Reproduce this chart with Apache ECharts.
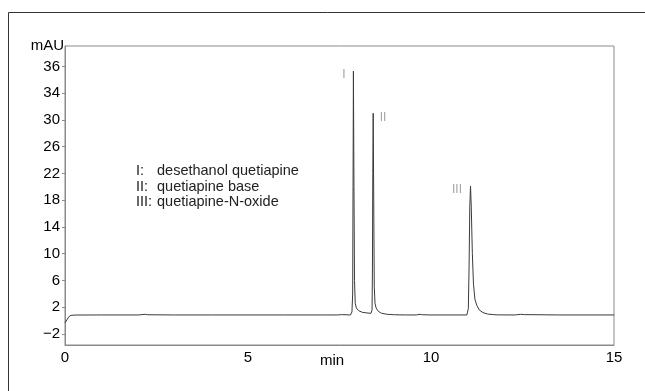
<!DOCTYPE html>
<html><head><meta charset="utf-8">
<script src="https://cdn.jsdelivr.net/npm/echarts@6/dist/echarts.min.js"></script>
<style>html,body{margin:0;padding:0;background:#fff}#c{width:645px;height:391px}</style>
</head><body><div id="c"></div>
<script>
// Chromatogram trace: [time (min), absorbance (mAU)]
var trace = [
  [0,-0.35],[0.05,0.1],[0.1,0.55],[0.16,0.8],[0.3,0.84],[1.0,0.85],[2.0,0.85],
  [2.2,0.95],[2.23,0.78],[2.26,0.88],[3.0,0.85],[4.0,0.85],[5.0,0.85],[6.0,0.85],
  [7.0,0.85],[7.45,0.85],[7.48,0.98],[7.5,0.8],[7.55,0.9],[7.6,0.85],[7.8,0.85],
  [7.84,1.3],[7.86,4],[7.87,20],[7.88,37.3],[7.895,20],[7.91,6],[7.93,2.6],
  [7.96,1.9],[8.02,1.5],[8.12,1.25],[8.25,1.15],[8.36,1.1],
  [8.39,1.6],[8.40,8],[8.41,22],[8.42,31.0],[8.435,18],[8.45,5],[8.47,2.6],
  [8.5,1.9],[8.56,1.4],[8.65,1.1],[8.8,0.95],[9.0,0.88],[9.3,0.85],
  [9.6,0.85],[9.7,0.95],[9.73,0.8],[9.76,0.88],[10.0,0.85],[10.98,0.85],
  [11.0,0.9],[11.02,1.8],[11.04,8],[11.06,17],[11.08,20.1],[11.1,17],[11.13,10],
  [11.16,5.5],[11.2,3.2],[11.25,2.3],[11.32,1.6],[11.42,1.2],[11.55,0.98],
  [11.7,0.9],[11.85,0.86],[12.3,0.85],[12.45,0.95],[12.5,0.8],[12.55,0.9],
  [12.6,0.85],[13.5,0.85],[15,0.85]
];
// Peak labels
var peakNames = ['I','II','III'];
var peakLabelTimes = [7.62, 8.69, 10.71];
var peakLabelValues = [36.7, 30.3, 19.5];
// Axis ticks
var yTickValues = [-2,2,6,10,14,18,22,26,30,34,38];
var yTickLabels = ['\u22122','2','6','10','14','18','22','26','30','34','36'];
// Legend
var legendNumerals = ['I:','II:','III:'];
var legendNames = ['desethanol quetiapine','quetiapine base','quetiapine-N-oxide'];

var font = '"Liberation Sans", Arial, sans-serif';
var chart = echarts.init(document.getElementById('c'), null, {renderer:'canvas'});
var labelData = peakNames.map(function(n,i){return [peakLabelTimes[i], peakLabelValues[i], n];});
var graphics = [
  {type:'rect', shape:{x:8.5,y:12.5,width:700,height:500}, style:{fill:'none', stroke:'#333', lineWidth:1}, silent:true},
  {type:'text', x:64, y:46, style:{text:'mAU', font:'15px '+font, fill:'#000', textAlign:'right', textVerticalAlign:'middle'}},
  {type:'text', x:332, y:361, style:{text:'min', font:'15px '+font, fill:'#000', textAlign:'center', textVerticalAlign:'middle'}}
];
legendNames.forEach(function(n,i){
  var y = 171 + i*15.5;
  graphics.push({type:'text', x:136, y:y, style:{text:legendNumerals[i], font:'14.5px '+font, fill:'#222', textVerticalAlign:'middle'}});
  graphics.push({type:'text', x:157, y:y, style:{text:n, font:'14.5px '+font, fill:'#222', textVerticalAlign:'middle'}});
});
chart.setOption({
  animation:false,
  grid:{left:65, top:46, right:31, bottom:46, show:true, borderColor:'#8a8a8a', borderWidth:1},
  xAxis:{type:'value', min:0, max:15, interval:5,
    axisLine:{show:true, onZero:false, lineStyle:{color:'#8a8a8a'}}, axisTick:{show:false}, splitLine:{show:false},
    axisLabel:{color:'#000', fontSize:15, fontFamily:font, margin:5}
  },
  yAxis:{type:'value', min:-3.64, max:41.05,
    axisLine:{show:true, onZero:false, lineStyle:{color:'#8a8a8a'}},
    axisTick:{show:true, length:3, customValues:yTickValues, lineStyle:{color:'#8a8a8a'}},
    splitLine:{show:false},
    axisLabel:{color:'#000', fontSize:15, fontFamily:font, margin:5, customValues:yTickValues,
      formatter:function(v){var i=yTickValues.indexOf(Math.round(v));return i>=0?yTickLabels[i]:'';}}
  },
  series:[
    {type:'line', data:trace, showSymbol:false, symbol:'none', lineStyle:{color:'#3a3a3a', width:1}, z:3},
    {type:'scatter', data:labelData, symbolSize:0, silent:true,
      label:{show:true, position:'inside', formatter:function(p){return p.data[2];},
        color:'#8c8c8c', fontSize:12, fontFamily:font}}
  ],
  graphic:graphics
});
</script></body></html>
